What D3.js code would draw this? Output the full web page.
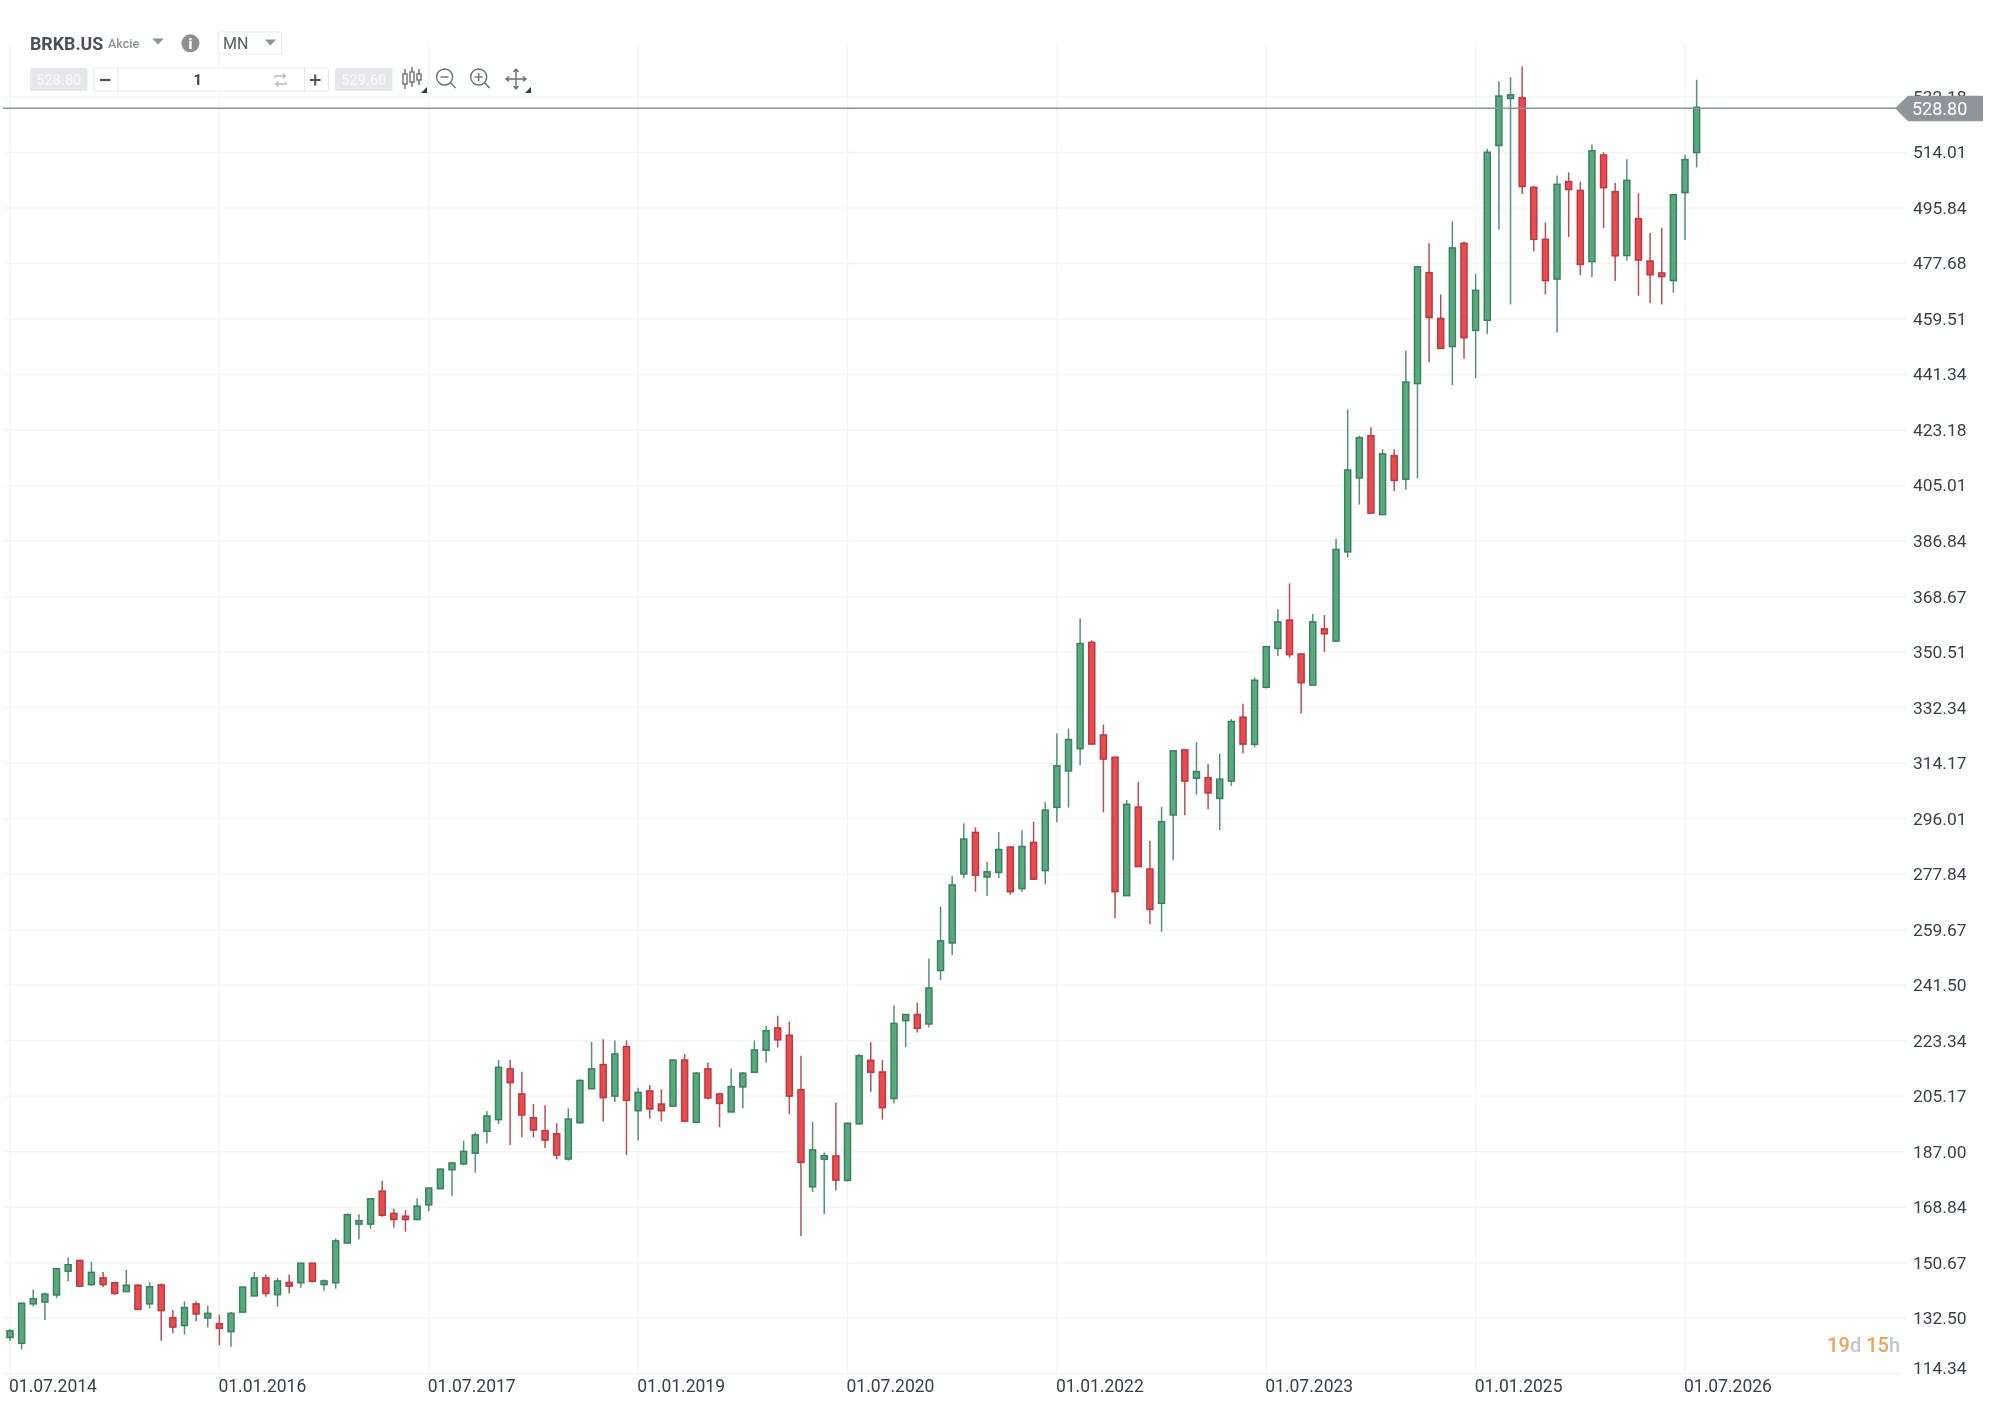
<!DOCTYPE html>
<html>
<head>
<meta charset="utf-8">
<script src="https://cdn.jsdelivr.net/npm/d3@7/dist/d3.min.js"></script>
<style>
html,body{margin:0;padding:0;background:#fff;}
svg{display:block;font-family:Roboto,sans-serif;filter:blur(0.55px);}
</style>
</head>
<body>
<script>
const opens=[126.2,124.3,137.2,137.8,140.1,147.9,151.4,143.5,145.7,144.1,141.2,143.3,137.2,143.4,132.7,130.1,137.2,132.6,130.7,128.1,134.5,139.8,145.7,140.2,144.2,144.1,150.5,143.5,144.1,157.1,163.3,163.3,174.1,166.8,165.9,164.8,169.6,174.9,181.1,183.0,186.5,193.7,197.5,214.1,205.9,198.1,193.9,192.9,184.6,196.5,207.6,215.5,205.2,221.4,200.4,206.9,202.6,201.9,217.0,196.6,214.1,205.9,200.0,208.2,213.0,220.2,227.5,225.1,207.3,175.5,184.5,185.6,177.6,196.1,216.9,213.1,204.4,229.9,231.9,228.8,246.3,255.3,277.9,291.5,276.9,278.4,286.7,273.1,288.2,279.0,299.7,311.6,318.9,353.7,323.4,316.1,270.8,299.8,279.5,268.3,297.2,318.5,309.2,309.4,302.6,308.3,329.2,320.3,339.0,351.7,361.0,349.9,339.7,358.1,354.1,383.3,407.5,421.3,395.5,414.8,407.1,438.4,474.7,459.7,450.5,484.3,455.8,459.1,516.3,531.7,531.9,502.6,485.6,472.6,504.5,501.6,478.3,513.2,501.2,480.3,492.4,478.5,474.6,472.1,500.9,514.0];
const highs=[128.9,137.6,141.9,140.9,148.9,152.4,151.6,151.0,147.6,144.3,148.3,143.7,144.3,143.9,135.2,138.0,138.0,136.6,133.7,134.5,142.8,147.6,146.8,145.7,146.8,150.5,150.6,145.2,158.6,166.8,166.5,171.6,177.5,168.4,167.9,171.7,175.2,181.4,183.7,190.6,193.3,200.2,217.0,217.0,213.2,202.6,202.2,196.3,201.2,210.7,222.9,223.8,223.4,223.4,207.9,208.8,207.4,217.0,219.0,213.1,216.2,206.3,214.2,213.1,223.4,228.2,231.5,229.6,218.4,196.8,186.7,203.1,196.3,219.0,222.8,217.0,234.9,232.0,235.8,250.2,267.2,277.2,294.5,293.2,281.9,291.6,286.9,292.2,295.0,301.4,323.9,325.5,361.5,354.3,326.8,316.3,302.1,308.0,288.8,299.8,318.5,318.5,321.0,313.9,317.2,328.6,333.6,342.2,352.3,364.5,373.0,349.9,363.0,362.6,387.6,429.9,421.3,424.1,416.9,416.9,449.2,477.0,484.3,467.5,491.5,484.9,474.2,515.2,537.3,538.7,542.2,503.1,491.1,506.5,507.5,504.5,516.6,514.1,504.0,511.8,500.7,487.7,489.3,500.3,513.2,537.8];
const lows=[125.1,122.3,136.3,131.9,139.1,144.5,143.0,143.0,142.6,140.2,141.2,135.4,135.7,125.1,127.6,127.1,131.5,129.5,123.7,123.2,134.4,139.8,139.5,136.3,140.6,142.5,144.1,141.5,142.2,157.1,158.3,161.8,165.7,162.2,160.8,164.6,167.6,174.8,172.5,182.5,180.1,189.7,196.0,189.2,191.7,191.7,188.2,184.5,184.1,196.1,207.6,196.9,203.3,185.9,190.7,197.9,196.9,201.9,196.6,196.5,204.1,195.0,200.0,201.2,213.0,216.1,221.1,199.3,159.4,173.8,166.6,174.4,177.3,196.0,206.6,197.5,202.8,221.2,226.0,227.7,243.2,251.4,276.4,272.1,270.7,276.5,271.1,272.1,275.9,274.5,294.8,299.6,313.5,320.3,298.1,263.4,270.7,280.3,261.4,259.0,282.3,297.1,303.9,299.1,292.3,306.7,317.4,319.4,338.6,349.2,348.7,330.4,339.7,350.6,354.1,381.5,398.8,396.0,395.4,403.2,403.6,407.4,445.4,449.9,437.9,446.5,440.2,454.6,488.8,464.3,500.4,481.6,467.6,455.1,486.4,473.9,473.3,489.3,472.0,478.7,467.1,464.7,464.3,468.1,485.4,509.1];
const closes=[128.4,137.4,138.9,140.4,148.7,150.0,143.0,147.5,143.5,140.6,143.3,135.4,142.8,135.0,129.6,136.0,133.9,134.1,129.2,134.1,142.7,145.7,140.6,144.7,143.0,150.5,144.6,144.7,157.8,166.4,164.4,171.6,166.2,164.8,164.8,169.2,175.1,181.3,183.3,187.1,192.5,198.7,214.6,209.6,199.0,194.1,190.8,185.9,197.7,210.3,214.1,204.7,219.0,203.8,206.4,201.0,200.4,217.0,197.0,212.7,204.6,202.8,208.3,212.7,220.3,226.6,223.6,205.2,183.5,187.6,185.7,177.7,196.3,218.4,213.0,201.4,229.0,231.9,227.4,240.6,256.0,274.3,289.3,277.5,278.6,285.9,272.1,286.9,276.2,298.8,313.3,321.9,353.3,320.4,315.5,272.1,300.7,280.3,266.3,295.0,318.2,308.3,311.4,304.4,308.9,327.8,320.4,341.3,352.3,360.4,349.7,340.5,360.4,356.5,384.1,410.1,420.7,396.0,415.4,406.7,438.9,476.6,460.0,449.9,482.8,453.4,468.9,514.1,532.5,532.9,502.9,485.6,472.1,503.6,501.9,477.4,514.6,502.5,480.2,504.9,478.8,474.0,473.4,500.2,511.7,528.8];
// true = the candle was drawn red, false = green
const isDown=opens.map((o,i)=>closes[i]<o);

const priceTicks=[114.34,132.50,150.67,168.84,187.00,205.17,223.34,241.50,259.67,277.84,296.01,314.17,332.34,350.51,368.67,386.84,405.01,423.18,441.34,459.51,477.68,495.84,514.01,532.18];
const dateLabels=["01.07.2014","01.01.2016","01.07.2017","01.01.2019","01.07.2020","01.01.2022","01.07.2023","01.01.2025","01.07.2026"];
const monthsPerLabel=18;
const lastPrice=528.80;
const symbol="BRKB.US", assetType="Akcie", timeframe="MN";
const bidText="528.80", askText="529.60", volumeText="1";
const countdown=[["19","d"],["15","h"]];

const W=2004,H=1428;
const GREEN="#57aa7c",GREEN_S="#3f7f60",GREEN_W="#55907a";
const RED="#e84c50",RED_S="#b93b40",RED_W="#b0525a";
const GRID="#f3f4f7",TXT="#3a4045";

const svg=d3.select("body").append("svg").attr("width",W).attr("height",H).attr("viewBox",`0 0 ${W} ${H}`);
const x=d3.scaleLinear().domain([0,144]).range([10,1685]);
const y=d3.scaleLinear().domain([114.34,532.18]).range([1373.7,97]);
const tickIdx=dateLabels.map((_,i)=>i*monthsPerLabel);

// grid
const grid=svg.append("g").attr("stroke",GRID).attr("stroke-width",1.4);
grid.selectAll("line.h").data(priceTicks).join("line").attr("class","h")
  .attr("x1",4).attr("x2",(d,i)=>i===0?1900:1906).attr("y1",d=>y(d)).attr("y2",d=>y(d));
grid.selectAll("line.v").data(tickIdx).join("line").attr("class","v")
  .attr("x1",d=>x(d)).attr("x2",d=>x(d)).attr("y1",42).attr("y2",y(114.34));

// axes
const yAxis=d3.axisRight(y).tickValues(priceTicks).tickFormat(d3.format(".2f")).tickSize(0).tickPadding(0);
const yG=svg.append("g").attr("transform","translate(1913,0)").call(yAxis);
yG.select(".domain").remove();
yG.selectAll("text").attr("font-size",17.4).attr("font-family","Roboto").attr("fill",TXT)
  .attr("dy",(d,i)=>i===0?"-0.01em":"0.31em");

const xAxis=d3.axisBottom(x).tickValues(tickIdx).tickFormat((d,i)=>dateLabels[i]).tickSize(0).tickPadding(0);
const xG=svg.append("g").attr("transform","translate(-1.5,1380)").call(xAxis);
xG.select(".domain").remove();
xG.selectAll("text").attr("font-size",17.5).attr("font-family","Roboto").attr("fill",TXT).attr("text-anchor","start").attr("dy","0.71em");

// candles
const idx=d3.range(opens.length);
const wicks=svg.append("g").attr("stroke-width",1.5);
wicks.selectAll("line").data(idx).join("line")
  .attr("x1",i=>x(i)).attr("x2",i=>x(i)).attr("y1",i=>y(highs[i])).attr("y2",i=>y(lows[i]))
  .attr("stroke",i=>isDown[i]?RED_W:GREEN_W);
const bodies=svg.append("g").attr("stroke-width",1.5);
bodies.selectAll("rect").data(idx).join("rect")
  .attr("x",i=>x(i)-3).attr("width",6)
  .attr("y",i=>y(Math.max(opens[i],closes[i])))
  .attr("height",i=>Math.max(1,Math.abs(y(opens[i])-y(closes[i]))))
  .attr("fill",i=>isDown[i]?RED:GREEN).attr("stroke",i=>isDown[i]?RED_S:GREEN_S);

// last-price line and flag
const ly=y(lastPrice)+1;
svg.append("line").attr("x1",3).attr("x2",1896).attr("y1",ly).attr("y2",ly).attr("stroke","#8d9397").attr("stroke-width",1.5);
svg.append("path").attr("fill","#8f9699")
  .attr("d",`M1895,${ly} L1908,${ly-12.5} H1983 V${ly+13} H1908 Z`);
svg.append("text").attr("x",1912).attr("y",ly).attr("dy","0.36em").attr("font-size",18).attr("fill","#fff").text(d3.format(".2f")(lastPrice));

// countdown
const cd=svg.append("text").attr("x",1900).attr("y",1352).attr("text-anchor","end").attr("font-size",20).attr("font-weight",500);
countdown.forEach((p,i)=>{
  cd.append("tspan").attr("fill","#e9a35c").text((i?" ":"")+p[0]);
  cd.append("tspan").attr("fill","#c2c6ca").text(p[1]);
});

// toolbar
const tb=svg.append("g");
tb.append("text").attr("x",30).attr("y",49.5).attr("font-size",17.8).attr("font-weight",700).attr("fill","#4a5157").text(symbol);
tb.append("text").attr("x",108).attr("y",47.5).attr("font-size",12.5).attr("font-weight",500).attr("fill","#8d9296").text(assetType);
const tri=(cx,cy,w,h,f)=>tb.append("path").attr("d",`M${cx-w/2},${cy-h/2} h${w} l${-w/2},${h} Z`).attr("fill",f);
tri(158,41.5,11.5,6,"#8d9296");
tb.append("circle").attr("cx",190.4).attr("cy",43.3).attr("r",9).attr("fill","#8f8f8f");
tb.append("text").attr("x",190.4).attr("y",48.5).attr("text-anchor","middle").attr("font-size",14).attr("font-weight",900).attr("fill","#fff").text("i");
tb.append("rect").attr("x",218).attr("y",32).attr("width",63.5).attr("height",22).attr("rx",2).attr("fill","#fff").attr("stroke","#e7e9eb").attr("stroke-width",1.2);
tb.append("text").attr("x",223).attr("y",49).attr("font-size",16).attr("fill","#555b60").text(timeframe);
tri(270.5,42.5,11,6,"#8d9296");

const pill=(x0,x1,t)=>{
  tb.append("rect").attr("x",x0).attr("y",68).attr("width",x1-x0).attr("height",23).attr("rx",2).attr("fill","#e5e7e8");
  tb.append("text").attr("x",(x0+x1)/2).attr("y",84.5).attr("text-anchor","middle").attr("font-size",14.5).attr("font-weight",500).attr("fill","#f6f6f6").text(t);
};
pill(30,87.5,bidText);
pill(335,392.5,askText);
tb.append("rect").attr("x",94).attr("y",68).attr("width",234.5).attr("height",23).attr("rx",2).attr("fill","#fff").attr("stroke","#e7e9eb").attr("stroke-width",1.2);
[118,304.6].forEach(v=>tb.append("line").attr("x1",v).attr("x2",v).attr("y1",68).attr("y2",91).attr("stroke","#e7e9eb").attr("stroke-width",1.2));
tb.append("path").attr("d","M100,80 h10.5").attr("stroke","#4a5157").attr("stroke-width",2.2);
tb.append("path").attr("d","M310,80 h10.5 M315.2,74.5 v11").attr("stroke","#4a5157").attr("stroke-width",2);
tb.append("text").attr("x",197.7).attr("y",85).attr("text-anchor","middle").attr("font-size",15.5).attr("font-weight",700).attr("fill","#3f454a").text(volumeText);
tb.append("path").attr("d","M275,78 v-2 h10 M282.5,73.5 l3,2.5 l-3,2.5 M286,82 v2 h-10 M278.5,81.5 l-3,2.5 l3,2.5")
  .attr("fill","none").attr("stroke","#b9bdc1").attr("stroke-width",1.3);

const ic="#696f74";
const icon=tb.append("g").attr("fill","none").attr("stroke",ic).attr("stroke-width",1.4);
[[405,72,86],[412,70,84],[419,72,82]].forEach(c=>{
  icon.append("line").attr("x1",c[0]).attr("x2",c[0]).attr("y1",c[1]-3).attr("y2",c[2]+3);
  icon.append("rect").attr("x",c[0]-2).attr("y",c[1]+2).attr("width",4).attr("height",c[2]-c[1]-4).attr("fill","#fff");
});
[[424,90],[528,90]].forEach(c=>tb.append("path").attr("d",`M${c[0]+3},${c[1]-3} v6 h-6 Z`).attr("fill","#33383c"));
const lens=(cx,plus)=>{
  icon.append("circle").attr("cx",cx).attr("cy",77).attr("r",8);
  icon.append("line").attr("x1",cx+5.8).attr("y1",82.8).attr("x2",cx+11).attr("y2",88);
  icon.append("line").attr("x1",cx-4).attr("x2",cx+4).attr("y1",77).attr("y2",77);
  if(plus) icon.append("line").attr("x1",cx).attr("x2",cx).attr("y1",73).attr("y2",81);
};
lens(444.6,false);
lens(478.7,true);
icon.append("path").attr("d","M506,79 h20 M516,69 v20 M509,76.5 l-3,2.5 l3,2.5 M523,76.5 l3,2.5 l-3,2.5 M513.5,72 l2.5,-3 l2.5,3 M513.5,86 l2.5,3 l2.5,-3");
</script>
</body>
</html>
